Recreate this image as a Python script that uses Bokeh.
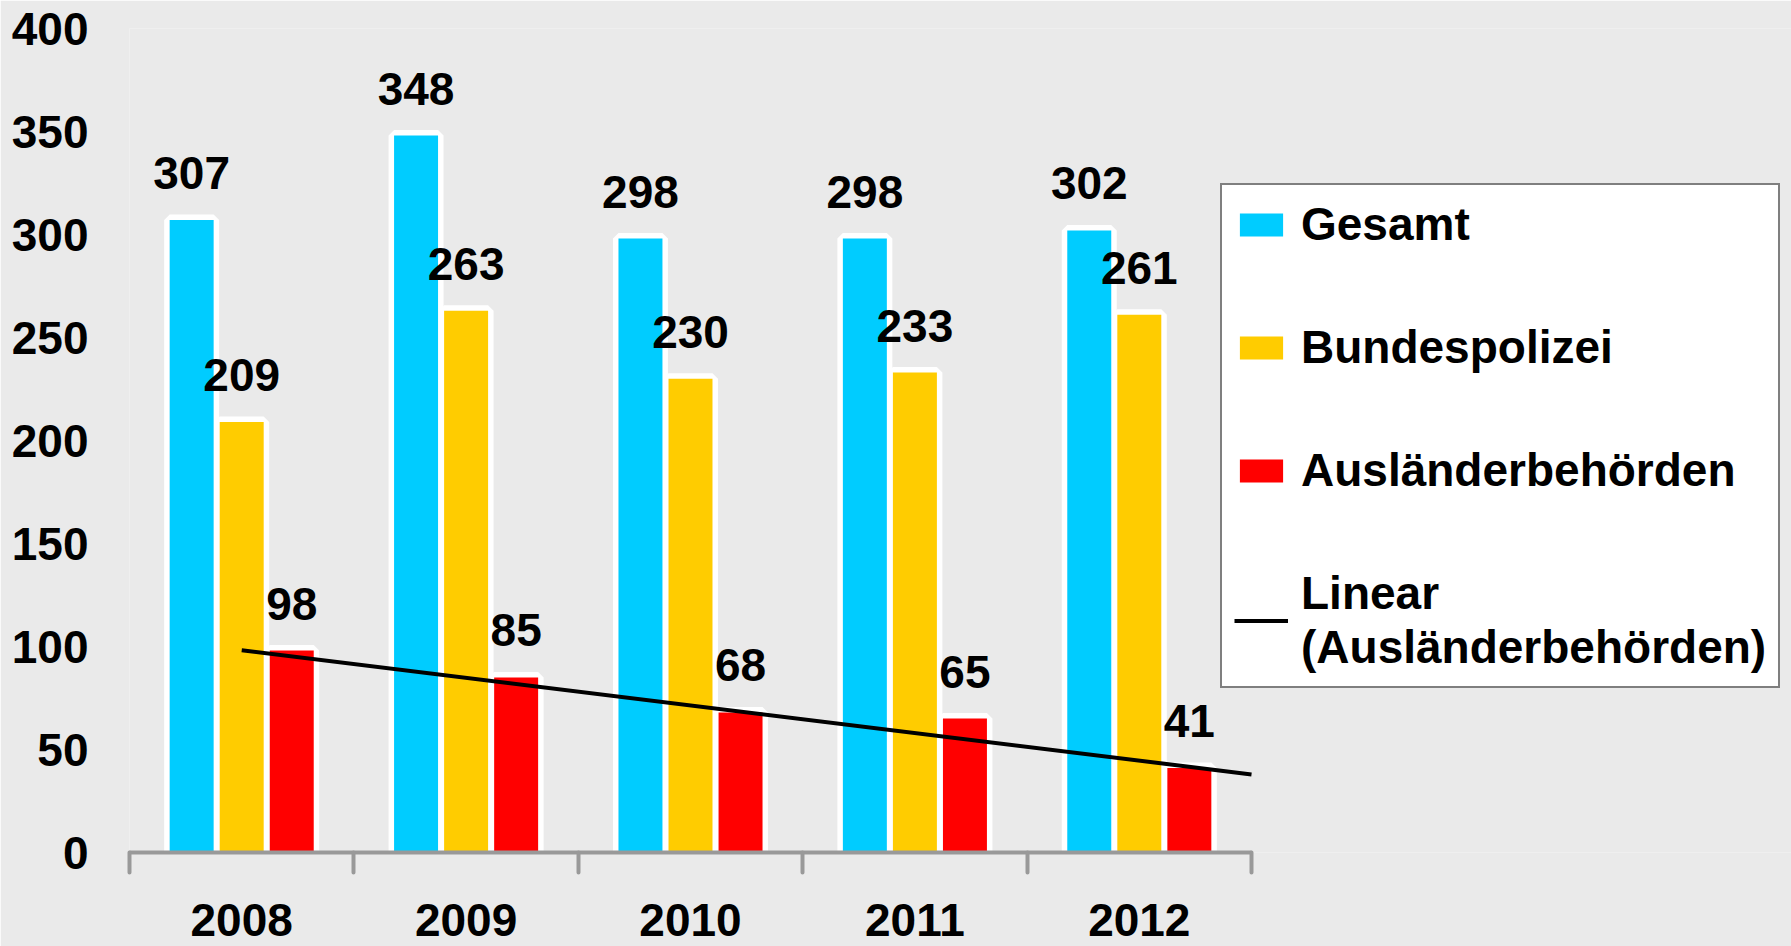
import numpy as np
from bokeh.plotting import figure
from bokeh.models import ColumnDataSource, FixedTicker, Legend, LegendItem, Range1d
from bokeh.transform import dodge
from bokeh.core.properties import value
from bokeh.embed import file_html
from bokeh.resources import INLINE

# ---- data ----
years = ["2008", "2009", "2010", "2011", "2012"]
gesamt = [307, 348, 298, 298, 302]
bundespolizei = [209, 263, 230, 233, 261]
auslaenderbehoerden = [98, 85, 68, 65, 41]
series_names = ["Gesamt", "Bundespolizei", "Ausländerbehörden"]
trend_name = "Linear\n(Ausländerbehörden)"
y_ticks = [0, 50, 100, 150, 200, 250, 300, 350, 400]

# ---- style ----
BG = "#EAEAEA"
COLORS = ["#00CCFF", "#FFCC00", "#FF0000"]
AXIS_GRAY = "#999999"
FONT = "Liberation Sans"
FS = "46px"
OFFSETS = [-0.223, 0.0, 0.223]
BAR_W = 0.196

xpos = list(range(1, len(years) + 1))
CAT_PX = 224.4                     # pixel width of one category
FRAME_LEFT = 129
x_end = 0.5 + (1791 - FRAME_LEFT) / CAT_PX   # frame runs to the right edge (room for legend)

p = figure(width=1791, height=946,
           x_range=Range1d(0.5, x_end), y_range=Range1d(0, 400),
           output_backend="svg", toolbar_location=None,
           min_border_left=FRAME_LEFT, min_border_right=0, min_border_top=28,
           min_border_bottom=94)
p.background_fill_color = BG
p.border_fill_color = BG
p.outline_line_color = None
p.grid.visible = False

series = [gesamt, bundespolizei, auslaenderbehoerden]
bar_renderers = []
sources = []
for vals in series:
    sources.append(ColumnDataSource(dict(x=xpos, top=vals, label=[str(v) for v in vals])))

# white underlays (outline)
for src, off in zip(sources, OFFSETS):
    p.vbar(x=dodge("x", off, range=p.x_range), top="top", width=BAR_W, source=src,
           fill_color="white", line_color="white", line_width=11)
# colored bars
for src, off, col in zip(sources, OFFSETS, COLORS):
    r = p.vbar(x=dodge("x", off, range=p.x_range), top="top", width=BAR_W, source=src,
               fill_color=col, line_color=None)
    bar_renderers.append(r)

# linear trend of Ausländerbehörden (Excel style, forward 0.5 period)
slope, intercept = np.polyfit(xpos, auslaenderbehoerden, 1)
trend_x = [xpos[0], xpos[-1] + 0.5]
trend_y = [slope * t + intercept for t in trend_x]
trend = p.line(trend_x, trend_y, line_color="black", line_width=4)

# value labels
for src, off in zip(sources, OFFSETS):
    p.text(x=dodge("x", off, range=p.x_range), y="top", text="label", source=src,
           text_font=value(FONT), text_font_size=FS, text_font_style="bold",
           text_color="black", text_align="center", text_baseline="alphabetic",
           y_offset=-47)

# axes
xa = p.xaxis[0]
xa.bounds = (0.5, len(years) + 0.5)
xa.ticker = FixedTicker(ticks=xpos, minor_ticks=[x - 0.5 for x in xpos] + [xpos[-1] + 0.5])
xa.major_label_overrides = {x: y for x, y in zip(xpos, years)}
xa.axis_line_color = AXIS_GRAY
xa.axis_line_width = 4
xa.major_tick_line_color = None
xa.major_tick_out = 0
xa.major_tick_in = 0
xa.minor_tick_out = 20
xa.minor_tick_in = 0
xa.minor_tick_line_color = AXIS_GRAY
xa.minor_tick_line_width = 4
xa.minor_tick_line_cap = "round"
xa.major_label_standoff = 31
xa.major_label_text_font = FONT
xa.major_label_text_font_size = FS
xa.major_label_text_font_style = "bold"
xa.major_label_text_color = "black"

ya = p.yaxis[0]
ya.ticker = FixedTicker(ticks=y_ticks)
ya.axis_line_color = None
ya.major_tick_line_color = None
ya.minor_tick_line_color = None
ya.major_tick_out = 0
ya.major_tick_in = 0
ya.major_label_standoff = 41
ya.major_label_text_font = FONT
ya.major_label_text_font_size = FS
ya.major_label_text_font_style = "bold"
ya.major_label_text_color = "black"

items = [LegendItem(label=n, renderers=[r]) for n, r in zip(series_names, bar_renderers)]
items.append(LegendItem(label=trend_name, renderers=[trend]))
legend = Legend(items=items, location=(1091, 164), orientation="vertical",
                glyph_width=54, glyph_height=29, label_standoff=13,
                padding=12, spacing=69, margin=0,
                border_line_color="black", border_line_width=2,
                background_fill_color="white", background_fill_alpha=1.0,
                label_text_font=FONT, label_text_font_size=FS,
                label_text_font_style="bold", label_text_color="black")
p.add_layout(legend)

open("out.html", "w").write(file_html(p, INLINE))
